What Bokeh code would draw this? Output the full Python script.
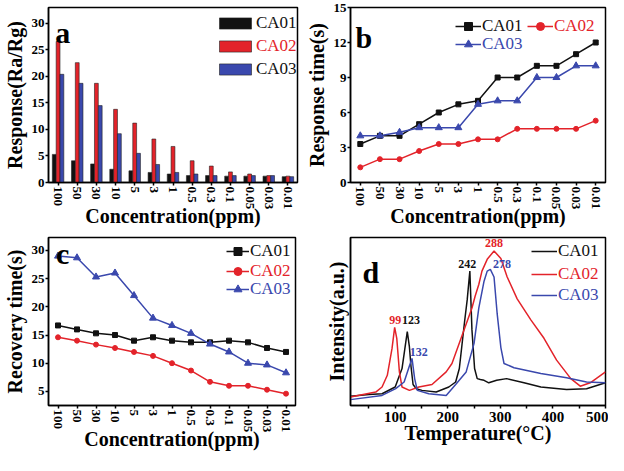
import math
from bokeh.plotting import figure
from bokeh.models import (FactorRange, Range1d, FixedTicker, Legend, LegendItem,
                          ColumnDataSource)
from bokeh.transform import dodge
from bokeh.layouts import column, row
from bokeh.embed import file_html
from bokeh.resources import INLINE
from bokeh.core.properties import value

# ---------------- data ----------------
conc = ["100", "50", "30", "10", "5", "3", "1", "0.5", "0.3", "0.1", "0.05", "0.03", "0.01"]

resp_ca01 = [5.3, 4.1, 3.5, 2.5, 2.2, 1.9, 1.6, 1.3, 1.3, 1.2, 1.2, 1.2, 1.1]
resp_ca02 = [26.6, 22.6, 18.7, 13.8, 11.2, 8.2, 6.8, 4.1, 3.1, 2.0, 1.6, 1.3, 1.2]
resp_ca03 = [20.4, 18.7, 14.5, 9.2, 5.5, 3.4, 1.9, 1.6, 1.3, 1.3, 1.3, 1.3, 1.1]

rt_ca01 = [3.3, 4.0, 4.0, 5.0, 6.0, 6.7, 7.0, 9.0, 9.0, 10.0, 10.0, 11.0, 12.0]
rt_ca02 = [1.3, 2.0, 2.0, 2.7, 3.3, 3.3, 3.7, 3.7, 4.6, 4.6, 4.6, 4.6, 5.3]
rt_ca03 = [4.0, 4.0, 4.3, 4.7, 4.7, 4.7, 6.7, 7.0, 7.0, 9.0, 9.0, 10.0, 10.0]

rec_ca01 = [16.7, 16.0, 15.3, 15.0, 14.0, 14.6, 14.0, 13.7, 13.7, 14.0, 13.7, 12.7, 12.0]
rec_ca02 = [14.6, 14.0, 13.3, 12.7, 12.0, 11.3, 10.0, 8.7, 6.7, 6.0, 6.0, 5.3, 4.6]
rec_ca03 = [29.0, 28.7, 25.3, 26.0, 22.0, 18.0, 16.7, 15.3, 13.4, 12.0, 10.0, 9.7, 8.3]

tpd_t_ca01 = [15, 50, 75, 100, 113, 118, 123, 127, 130, 134, 140, 151, 178, 202, 215, 222,
              227, 232, 237, 242, 246, 251, 256, 262, 269, 278, 293, 312, 345, 377, 426, 464, 500]
tpd_i_ca01 = [5.5, 6.5, 7, 11, 22, 33, 44, 35, 23.5, 12.5, 10, 9, 8, 11, 14, 22,
              36, 50, 63, 80, 45, 22, 16, 15.5, 15, 13.5, 15, 16, 13.5, 11, 9.5, 10, 13.5]

tpd_t_ca02 = [15, 63, 75, 85, 94, 99, 103, 108, 113, 127, 145, 170, 197, 208, 227, 246, 252,
              259, 265, 275, 288, 301, 313, 332, 358, 383, 407, 434, 452, 471, 500]
tpd_i_ca02 = [5, 8, 11, 18, 34, 46.5, 40, 20, 11, 9, 11, 12.5, 20, 25, 41.5, 58, 65,
              72, 80, 87, 92, 87.5, 76.5, 63.5, 51, 40, 27, 16, 11.5, 13.5, 20]

tpd_t_ca03 = [15, 75, 101, 117, 127, 132, 137, 142, 164, 197, 215, 235, 250, 259, 269, 275,
              281, 288, 294, 301, 307, 326, 377, 426, 464, 500]
tpd_i_ca03 = [3.5, 6, 10, 14, 23.5, 28, 16, 9, 7, 6, 12.5, 20, 37, 58, 74, 80,
              81, 76.5, 54.5, 34.5, 25, 22.5, 19, 16.5, 14, 13.5]

peak_labels = ["99", "123", "132", "242", "288", "278"]
peak_label_t = [100, 130, 145, 237, 288, 303]
peak_label_i = [51, 51, 32, 84, 97, 84]
peak_colors = ["#e3232a", "#111111", "#3a48ad", "#111111", "#e3232a", "#3a48ad"]

series = ["CA01", "CA02", "CA03"]
BLACK = "#111111"
RED = "#e3232a"
BLUE = "#3a48ad"
colors = [BLACK, RED, BLUE]

SERIF = "Liberation Serif"
SERIF2 = "Times New Roman"

# layout (pixels)
TOP1, TOP2 = 7, 5
BOT = 50
H1 = 232
H2 = 455 - H1
FH1 = H1 - TOP1 - BOT
FH2 = H2 - TOP2 - BOT


def style(p, xlabel, ylabel, xrot=True):
    p.outline_line_color = "black"
    p.outline_line_width = 1.5
    p.outline_line_alpha = 1
    p.xgrid.visible = False
    p.ygrid.visible = False
    for ax in p.axis:
        ax.axis_line_width = 1.5
        ax.axis_line_color = "black"
        ax.major_tick_line_width = 1.5
        ax.major_tick_line_color = "black"
        ax.major_tick_in = 0
        ax.major_tick_out = 3
        ax.minor_tick_line_color = None
        ax.major_label_text_font = SERIF
        ax.major_label_text_font_style = "bold"
        ax.major_label_text_font_size = "13px"
        ax.major_label_text_color = "black"
        ax.major_label_standoff = 1
        ax.axis_label_text_font = SERIF
        ax.axis_label_text_font_style = "bold"
        ax.axis_label_text_font_size = "20px"
        ax.axis_label_text_color = "black"
        ax.axis_label_standoff = 3
    p.yaxis.axis_label = ylabel
    p.xaxis.axis_label = xlabel
    p.xaxis.axis_label_text_line_height = 1.0
    if xrot:
        p.xaxis.major_label_orientation = -math.pi / 2
        p.xaxis.axis_label_standoff = -7


def add_leg(p, label, renderers, x, center_from_top, fh, color, gw, gh=20, lh=20):
    leg = Legend(items=[LegendItem(label=label, renderers=renderers)],
                 location=(x, fh - center_from_top - lh // 2),
                 glyph_width=gw, glyph_height=gh, label_height=lh, label_standoff=1,
                 padding=0, margin=0, spacing=0,
                 border_line_alpha=0, background_fill_alpha=0,
                 label_text_font=SERIF2, label_text_font_style="normal",
                 label_text_font_size="17px", label_text_color=color)
    p.add_layout(leg)


def panel_letter(p, letter, x, y):
    p.text(x=[x], y=[y], text=[letter], text_font=value(SERIF), text_font_style="bold",
           text_font_size="30px", text_color="black", text_align="left",
           text_baseline="alphabetic")


# ---------------- panel a ----------------
src_a = ColumnDataSource(dict(conc=conc, ca01=resp_ca01, ca02=resp_ca02, ca03=resp_ca03))
pa = figure(width=302, height=H1, x_range=FactorRange(*conc, range_padding=0),
            y_range=Range1d(0, 33), output_backend="svg", toolbar_location=None,
            min_border_left=44, min_border_right=5, min_border_top=TOP1, min_border_bottom=BOT)
bars = []
for i, (key, col) in enumerate(zip(["ca01", "ca02", "ca03"], colors)):
    r = pa.vbar(x=dodge("conc", (i - 1) * 0.2, range=pa.x_range), top=key, width=0.2,
                source=src_a, fill_color=col, line_color="#222222", line_width=0.6)
    bars.append(r)
style(pa, "Concentration(ppm)", "Response(Ra/Rg)")
pa.yaxis.ticker = FixedTicker(ticks=[0, 5, 10, 15, 20, 25, 30])
panel_letter(pa, "a", 0.35, 28.3)
add_leg(pa, "CA01", [bars[0]], 167, 16, FH1, BLACK, 40, 14, 22)
add_leg(pa, "CA02", [bars[1]], 167, 39, FH1, RED, 40, 14, 22)
add_leg(pa, "CA03", [bars[2]], 167, 62, FH1, BLACK, 40, 14, 22)

# ---------------- panel b ----------------
pb = figure(width=306, height=H1, x_range=FactorRange(*conc, range_padding=0),
            y_range=Range1d(0, 15), output_backend="svg", toolbar_location=None,
            min_border_left=48, min_border_right=3, min_border_top=TOP1, min_border_bottom=BOT)
rb = []
for vals, col, mk, sz in zip([rt_ca01, rt_ca02, rt_ca03], colors,
                              ["square", "circle", "triangle"], [5, 5, 7]):
    l = pb.line(conc, vals, line_color=col, line_width=1.5)
    s = pb.scatter(conc, vals, marker=mk, size=sz, fill_color=col, line_color=col)
    rb.append([l, s])
style(pb, "Concentration(ppm)", "Response time(s)")
pb.yaxis.ticker = FixedTicker(ticks=[0, 3, 6, 9, 12, 15])
panel_letter(pb, "b", 0.25, 12.4)
add_leg(pb, "CA01", rb[0], 105, 19, FH1, BLACK, 26)
add_leg(pb, "CA02", rb[1], 177, 19, FH1, RED, 26)
add_leg(pb, "CA03", rb[2], 105, 37, FH1, BLUE, 26)

# ---------------- panel c ----------------
pc = figure(width=302, height=H2, x_range=FactorRange(*conc, range_padding=0),
            y_range=Range1d(2.5, 32.3), output_backend="svg", toolbar_location=None,
            min_border_left=44, min_border_right=7, min_border_top=TOP2,
            min_border_bottom=BOT)
rc = []
for vals, col, mk, sz in zip([rec_ca01, rec_ca02, rec_ca03], colors,
                              ["square", "circle", "triangle"], [5, 5, 7]):
    l = pc.line(conc, vals, line_color=col, line_width=1.5)
    s = pc.scatter(conc, vals, marker=mk, size=sz, fill_color=col, line_color=col)
    rc.append([l, s])
style(pc, "Concentration(ppm)", "Recovery time(s)")
pc.yaxis.ticker = FixedTicker(ticks=[5, 10, 15, 20, 25, 30])
panel_letter(pc, "c", 0.4, 29.4)
add_leg(pc, "CA01", rc[0], 178, 14, FH2, BLACK, 23)
add_leg(pc, "CA02", rc[1], 178, 34, FH2, RED, 23)
add_leg(pc, "CA03", rc[2], 178, 52, FH2, BLUE, 23)

# ---------------- panel d ----------------
pd_ = figure(width=306, height=H2, x_range=Range1d(15, 500), y_range=Range1d(0, 100),
             output_backend="svg", toolbar_location=None,
             min_border_left=48, min_border_right=3, min_border_top=TOP2,
             min_border_bottom=BOT)
rd = []
for tx, iy, col in zip([tpd_t_ca01, tpd_t_ca02, tpd_t_ca03],
                       [tpd_i_ca01, tpd_i_ca02, tpd_i_ca03], colors):
    rd.append(pd_.line(tx, iy, line_color=col, line_width=1.5))
style(pd_, "Temperature(\u00b0C)", "Intensity(a.u.)", xrot=False)
pd_.xaxis.ticker = FixedTicker(ticks=[100, 200, 300, 400, 500],
                               minor_ticks=[50, 150, 250, 350, 450])
pd_.xaxis.minor_tick_line_color = "black"
pd_.xaxis.minor_tick_line_width = 1.5
pd_.xaxis.minor_tick_in = 0
pd_.xaxis.minor_tick_out = 3
pd_.xaxis.major_label_text_font_size = "15px"
pd_.xaxis.major_label_standoff = 3
pd_.xaxis.axis_label_standoff = -3
pd_.yaxis.ticker = FixedTicker(ticks=[])
pd_.yaxis.major_tick_out = 0
src_pk = ColumnDataSource(dict(t=peak_label_t, i=peak_label_i, txt=peak_labels, c=peak_colors))
pd_.text(x="t", y="i", text="txt", text_color="c", source=src_pk, text_font=value(SERIF),
         text_font_style="bold", text_font_size="12px", text_align="center",
         text_baseline="middle")
panel_letter(pd_, "d", 38, 79)
add_leg(pd_, "CA01", [rd[0]], 181, 14, FH2, BLACK, 26)
add_leg(pd_, "CA02", [rd[1]], 181, 37, FH2, RED, 26)
add_leg(pd_, "CA03", [rd[2]], 181, 58, FH2, BLUE, 26)

layout = column(row(pa, pb), row(pc, pd_))
open("out.html", "w").write(file_html(layout, INLINE))
